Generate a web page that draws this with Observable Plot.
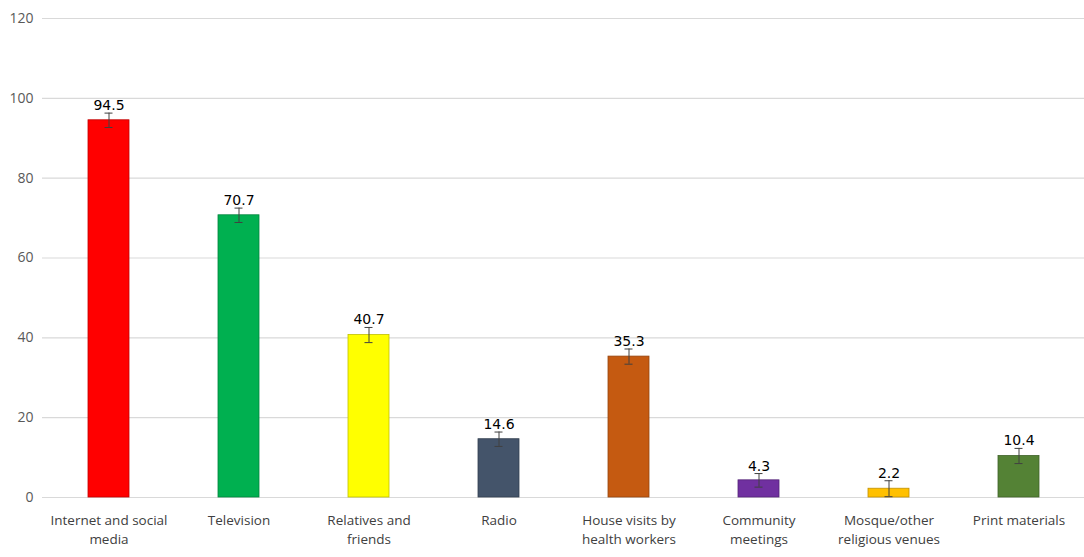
<!DOCTYPE html>
<html>
<head>
<meta charset="utf-8">
<script src="https://cdn.jsdelivr.net/npm/d3@7"></script>
<script src="https://cdn.jsdelivr.net/npm/@observablehq/plot@0.6"></script>
<style>
  html, body { margin: 0; padding: 0; background: #fff; }
  #chart svg { display: block; }
</style>
</head>
<body>
<div id="chart"></div>
<script>
const categories = [
  "Internet and social\nmedia",
  "Television",
  "Relatives and\nfriends",
  "Radio",
  "House visits by\nhealth workers",
  "Community\nmeetings",
  "Mosque/other\nreligious venues",
  "Print materials"
];
const values = [94.5, 70.7, 40.7, 14.6, 35.3, 4.3, 2.2, 10.4];
const errors = [1.8, 1.8, 1.9, 1.8, 1.9, 1.7, 2.0, 1.9];
const colors = ["#FF0000", "#00B050", "#FFFF00", "#44546A", "#C55A11", "#7030A0", "#FFC000", "#548235"];
const yTicks = [0, 20, 40, 60, 80, 100, 120];

const data = categories.map((c, i) => ({
  cat: c, value: values[i], err: errors[i], color: colors[i],
  stroke: d3.color(colors[i]).darker(0.8).formatHex()
}));

const chart = Plot.plot({
  width: 1084,
  height: 557,
  marginLeft: 42,
  marginRight: 0,
  marginTop: 18,
  marginBottom: 60,
  style: { fontFamily: "'Open Sans', sans-serif", background: "#fff" },
  x: { domain: categories, paddingInner: 0.685, paddingOuter: 0.3425, label: null },
  y: { domain: [0, 120], label: null },
  marks: [
    Plot.gridY(yTicks, { stroke: "#d9d9d9", strokeOpacity: 1, strokeWidth: 1.2 }),
    Plot.axisY(yTicks, { tickSize: 0, tickPadding: 9, fontSize: 14, fill: "#595959", label: null }),
    Plot.axisX({ tickSize: 0, tickPadding: 14, fontSize: 13.5, fill: "#404040", lineHeight: 1.4, label: null }),
    Plot.barY(data, { x: "cat", y: "value", fill: "color", stroke: "stroke", strokeWidth: 0.8 }),
    Plot.ruleX(data, { x: "cat", y1: d => d.value - d.err, y2: d => d.value + d.err, stroke: "#404040", strokeWidth: 1 }),
    Plot.tickY(data, { x: "cat", y: d => d.value + d.err, stroke: "#404040", strokeWidth: 1, insetLeft: 16.5, insetRight: 16.5 }),
    Plot.tickY(data, { x: "cat", y: d => d.value - d.err, stroke: "#404040", strokeWidth: 1, insetLeft: 16.5, insetRight: 16.5 }),
    Plot.text(data, { x: "cat", y: d => d.value + d.err, text: d => d.value.toFixed(1), lineAnchor: "bottom", dy: -3, fontSize: 14, fill: "#000", fontFamily: "'DejaVu Sans', sans-serif" })
  ]
});
document.getElementById("chart").appendChild(chart);
</script>
</body>
</html>
